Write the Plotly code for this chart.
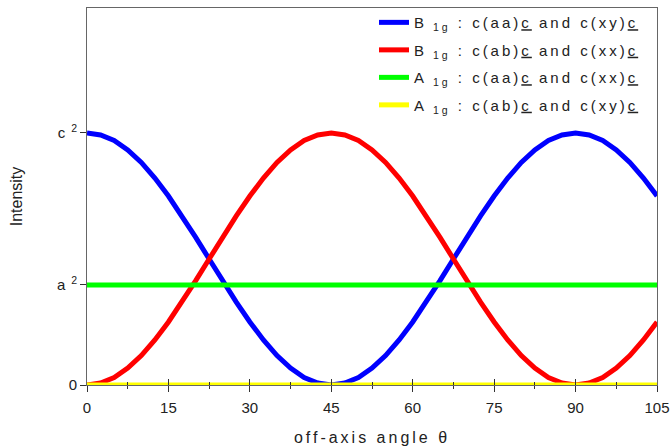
import plotly.graph_objects as go

# angle (degrees)
theta = [0, 2.5, 5, 7.5, 10, 12.5, 15, 17.5, 20, 22.5, 25, 27.5, 30, 32.5, 35, 37.5, 40, 42.5,
         45, 47.5, 50, 52.5, 55, 57.5, 60, 62.5, 65, 67.5, 70, 72.5, 75, 77.5, 80, 82.5, 85, 87.5,
         90, 92.5, 95, 97.5, 100, 102.5, 105]
# intensities in units of c^2
b1g_aa = [1.000, 0.992, 0.970, 0.933, 0.883, 0.821, 0.750, 0.671, 0.587, 0.500, 0.413, 0.329,
          0.250, 0.179, 0.117, 0.067, 0.030, 0.008, 0.000, 0.008, 0.030, 0.067, 0.117, 0.179,
          0.250, 0.329, 0.413, 0.500, 0.587, 0.671, 0.750, 0.821, 0.883, 0.933, 0.970, 0.992,
          1.000, 0.992, 0.970, 0.933, 0.883, 0.821, 0.750]
b1g_ab = [0.000, 0.008, 0.030, 0.067, 0.117, 0.179, 0.250, 0.329, 0.413, 0.500, 0.587, 0.671,
          0.750, 0.821, 0.883, 0.933, 0.970, 0.992, 1.000, 0.992, 0.970, 0.933, 0.883, 0.821,
          0.750, 0.671, 0.587, 0.500, 0.413, 0.329, 0.250, 0.179, 0.117, 0.067, 0.030, 0.008,
          0.000, 0.008, 0.030, 0.067, 0.117, 0.179, 0.250]
a1g_aa = [0.397] * len(theta)
a1g_ab = [0.0] * len(theta)

A2 = 0.397
C2 = 1.0
ytick_vals = [0, A2, C2]
ytick_text = ["0", "a<sup>  2</sup>", "c<sup>  2</sup>"]
xtick_vals = [0, 15, 30, 45, 60, 75, 90, 105]

names = [
    "B<sub> 1g</sub> : c(aa)<u>c</u> and c(xy)<u>c</u>",
    "B<sub> 1g</sub> : c(ab)<u>c</u> and c(xx)<u>c</u>",
    "A<sub> 1g</sub> : c(aa)<u>c</u> and c(xx)<u>c</u>",
    "A<sub> 1g</sub> : c(ab)<u>c</u> and c(xy)<u>c</u>",
]
series = [b1g_aa, b1g_ab, a1g_aa, a1g_ab]
colors = ["#0000FF", "#FF0000", "#00FF00", "#FFFF00"]

fig = go.Figure()
for i, (nm, ys, col) in enumerate(zip(names, series, colors)):
    fig.add_trace(go.Scatter(
        x=theta, y=ys, mode="lines",
        line=dict(color=col, width=5),
        name='<span style="letter-spacing:3px">' + nm + '</span>',
        legendgroup="g%d" % i,
    ))

# invisible trace on second x axis for inside ticks (ticks cross the axis)
fig.add_trace(go.Scatter(x=[0, 105], y=[0, 0], xaxis="x2", mode="lines",
                         line=dict(width=0), showlegend=False, hoverinfo="skip"))

axis_col = "#666666"
tick_col = "#333333"
fig.update_layout(
    width=670, height=446,
    margin=dict(l=87, r=13, t=8, b=61, autoexpand=False),
    paper_bgcolor="white", plot_bgcolor="white",
    font=dict(family="Liberation Sans, Arial, sans-serif", size=15, color="#222222"),
    showlegend=True,
    legend=dict(x=(374 - 87) / 570, xanchor="left", y=1.005, yanchor="top",
                font=dict(size=15, color="#222222"),
                bgcolor="rgba(0,0,0,0)", borderwidth=0,
                tracegroupgap=5, traceorder="grouped"),
    xaxis=dict(range=[0, 105], tickvals=xtick_vals, ticks="outside", ticklen=6,
               tickwidth=1, tickcolor=tick_col, automargin=False, ticklabelstandoff=3,
               showline=True, linecolor=axis_col, linewidth=1, mirror=True,
               showgrid=False, zeroline=False,
               minor=dict(dtick=7.5, tick0=0, ticks="outside", ticklen=3, tickcolor=tick_col),
               title=dict(text='<span style="letter-spacing:3px">off-axis angle θ</span>',
                          font=dict(size=16), standoff=16)),
    xaxis2=dict(range=[0, 105], overlaying="x", side="bottom", tickvals=xtick_vals,
                ticks="inside", ticklen=6, tickcolor=tick_col, showticklabels=False,
                showgrid=False, zeroline=False, showline=False, automargin=False,
                minor=dict(dtick=7.5, tick0=0, ticks="inside", ticklen=3, tickcolor=tick_col)),
    yaxis=dict(range=[0, 1.496], tickvals=ytick_vals, ticktext=ytick_text,
               ticks="outside", ticklen=6, tickcolor=tick_col, automargin=False,
               showline=True, linecolor=axis_col, linewidth=1, mirror=True,
               showgrid=False, zeroline=False,
               title=dict(text="Intensity", font=dict(size=16), standoff=30)),
)

fig.write_html("out.html", config={"displayModeBar": False},
               post_script="document.body.style.margin='0';")
